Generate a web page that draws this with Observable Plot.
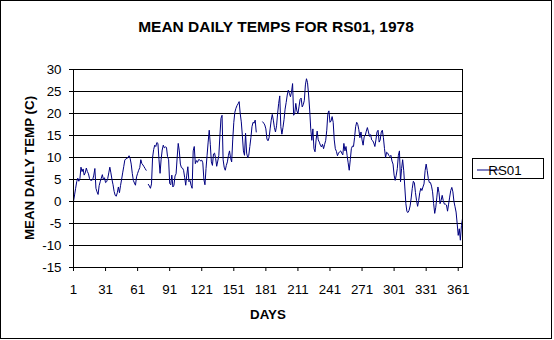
<!DOCTYPE html>
<html>
<head>
<meta charset="utf-8">
<script src="https://cdn.jsdelivr.net/npm/d3@7"></script>
<script src="https://cdn.jsdelivr.net/npm/@observablehq/plot@0.6"></script>
<style>
  body { margin: 0; background: #fff; }
  #chart { position: relative; width: 554px; height: 340px; }
</style>
</head>
<body>
<div id="chart"></div>
<script>
// ---- data ----
const title = "MEAN DAILY TEMPS FOR RS01, 1978";
const xTitle = "DAYS";
const yTitle = "MEAN DAILY TEMP (C)";
const seriesName = "RS01";
const xTicks = [1, 31, 61, 91, 121, 151, 181, 211, 241, 271, 301, 331, 361];
const yTicks = [-15, -10, -5, 0, 5, 10, 15, 20, 25, 30];
const temps = [
  0, 1.5, 3.0, 4.5, 5.3, 4.6, 5.2, 7.8, 6.8, 7.4,
  6.0, 6.5, 7.6, 6.8, 6.3, 5.2, 4.8, 4.8, 5.0, 6.0,
  7.5, 3.0, 2.2, 1.6, 3.6, 4.5, 5.3, 6.1, 5.0, 5.4,
  4.3, 4.5, 5.2, 6.5, 7.8, 6.5, 5.0, 3.8, 2.3, 1.4,
  1.2, 2.0, 3.3, 2.0, 3.6, 5.0, 6.5, 7.9, 9.4, 9.7,
  9.8, 10.0, 10.4, 9.8, 8.5, 6.4, 4.8, 4.2, 3.7, 5.6,
  6.4, 7.1, 7.7, 9.5, 8.6, 8.3, 7.9, 7.5, 7.1, null,
  3.9, 3.5, 3.0, 4.0, 10.0, 11.8, 12.8, 12.5, 13.4, 13.2,
  9.5, 6.4, 9.6, 11.7, 12.8, 12.2, 12.4, 12.3, 10.2, 9.5,
  4.1, 3.8, 6.0, 3.3, 3.7, 5.8, 6.3, 10.0, 13.2, 11.5,
  8.5, 7.7, 7.6, 7.1, 5.5, 3.7, 6.0, 7.9, 4.5, 4.8,
  3.7, 3.0, 11.5, 12.5, 8.6, 9.3, 8.9, 9.5, 9.5, 9.2,
  9.4, 8.8, 5.0, 3.8, 7.5, 10.5, 13.5, 16.2, 13.0, 9.0,
  8.2, 10.8, 11.0, 9.8, 8.0, 9.2, 10.5, 15.0, 18.9, 19.6,
  9.5, 7.8, 7.1, 8.2, 9.0, 10.5, 11.5, 9.8, 9.0, 14.0,
  18.0, 20.3, 21.2, 21.8, 22.2, 22.7, 20.0, 18.1, 15.0, 11.5,
  10.5, 15.5, 11.0, 10.0, 10.5, 12.5, 14.5, 17.0, 18.0, 17.8,
  18.5, 15.8, null, null, null, null, null, 18.1, 17.8, 17.4,
  16.5, 14.2, 13.8, 14.5, 16.5, 18.5, 19.8, 18.5, 16.8, 15.8,
  17.2, 20.0, 22.3, 24.0, 17.0, 15.3, 16.8, 18.6, 21.0, 22.5,
  24.2, 25.3, 24.6, 23.8, 24.9, 26.8, 19.6, 20.0, 22.3, 20.6,
  20.0, 21.5, 23.2, 23.5, 21.5, 22.0, 23.0, 26.5, 27.9, 27.0,
  24.2, 20.8, 16.5, 13.9, 16.5, 12.0, 11.3, 14.0, 16.0, 14.0,
  13.5, 12.8, 12.4, 13.0, 12.0, 13.0, 13.9, 16.2, 20.0, 20.6,
  18.0, 18.3, 19.3, 18.0, 14.0, 12.0, 11.4, 10.4, 11.0, 11.3,
  11.5, 11.0, 10.6, 13.2, 11.5, 12.5, 10.5, 8.8, 7.1, 9.5,
  12.0, 12.6, 12.5, 14.5, 17.0, 18.0, 17.5, 16.3, 14.5, 15.8,
  14.0, 12.8, 14.7, 15.0, 16.0, 16.8, 15.8, 14.8, 15.2, 14.0,
  13.8, 13.3, 12.5, 14.0, 15.8, 16.2, 13.5, 14.0, 15.8, 16.2,
  14.5, 12.0, 10.0, 11.2, 11.0, 10.5, 10.2, 10.5, 9.2, 8.5,
  6.0, 4.8, 6.0, 7.5, 10.5, 11.5, 4.5, 7.5, 9.5, 7.0,
  3.3, -0.5, -2.3, -2.5, -2.0, -1.0, 0.8, 3.0, 4.6, 4.2,
  2.0, 0.2, -1.1, 0.2, 2.0, 3.0, 2.5, 3.3, 4.0, 7.0,
  8.5, 7.0, 5.2, 4.3, 4.3, 3.5, 2.2, -0.5, -2.7, -1.3,
  1.0, 3.3, 2.0, -0.5, 0.3, 1.4, 0.2, -0.6, -0.6, -0.8,
  -2.2, -0.6, 1.0, 2.5, 3.2, 2.2, 0.0, -1.2, -2.4, -5.0,
  -7.7, -6.2, -8.8, -5.5, -3.9
];
const days = temps.map((_, i) => i + 1);
const rows = days.map((d, i) => ({day: d, temp: temps[i]}));

const FONT = "'Liberation Sans', Arial, sans-serif";
const LINE = "#000080";

const svg = Plot.plot({
  width: 554,
  height: 340,
  marginLeft: 73,
  marginRight: 92,
  marginTop: 69,
  marginBottom: 73,
  x: {domain: [1, 365]},
  y: {domain: [-15, 30]},
  style: {fontFamily: FONT, fontSize: "13.33px", background: "white", color: "black", overflow: "visible"},
  marks: [
    Plot.ruleY(yTicks, {stroke: "black", strokeWidth: 1}),
    Plot.line(rows, {x: "day", y: "temp", stroke: LINE, strokeWidth: 1}),
    Plot.frame({stroke: "black"}),
    Plot.axisY(yTicks, {tickSize: 4, tickPadding: 8, label: null, tickFormat: d => String(d), fontSize: 13.33}),
    Plot.axisX(xTicks, {tickSize: 4, tickPadding: 13, label: null, tickFormat: d => String(d), fontSize: 13.33})
  ]
});

const s = d3.select(svg);
// outer border
s.append("rect").attr("x", 0.5).attr("y", 0.5).attr("width", 551).attr("height", 338)
  .attr("fill", "none").attr("stroke", "black");
// title
s.append("text").attr("x", 276).attr("y", 31.5).attr("text-anchor", "middle")
  .attr("font-family", FONT).attr("font-weight", "bold").attr("font-size", 15.5).text(title);
// x title
s.append("text").attr("x", 268).attr("y", 319).attr("text-anchor", "middle")
  .attr("font-family", FONT).attr("font-weight", "bold").attr("font-size", 13.33).text(xTitle);
// y title
s.append("text").attr("transform", "translate(33.5,168) rotate(-90)").attr("text-anchor", "middle")
  .attr("font-family", FONT).attr("font-weight", "bold").attr("font-size", 13.33).text(yTitle);
// legend
const lg = s.append("g");
lg.append("rect").attr("x", 472.5).attr("y", 158.5).attr("width", 71).attr("height", 20)
  .attr("fill", "white").attr("stroke", "black");
lg.append("line").attr("x1", 477).attr("x2", 499.5).attr("y1", 170).attr("y2", 170)
  .attr("stroke", LINE).attr("stroke-width", 1);
lg.append("text").attr("x", 505).attr("y", 174.5).attr("font-family", FONT)
  .attr("font-size", 13.33).text(seriesName);

document.getElementById("chart").appendChild(svg);
</script>
</body>
</html>
